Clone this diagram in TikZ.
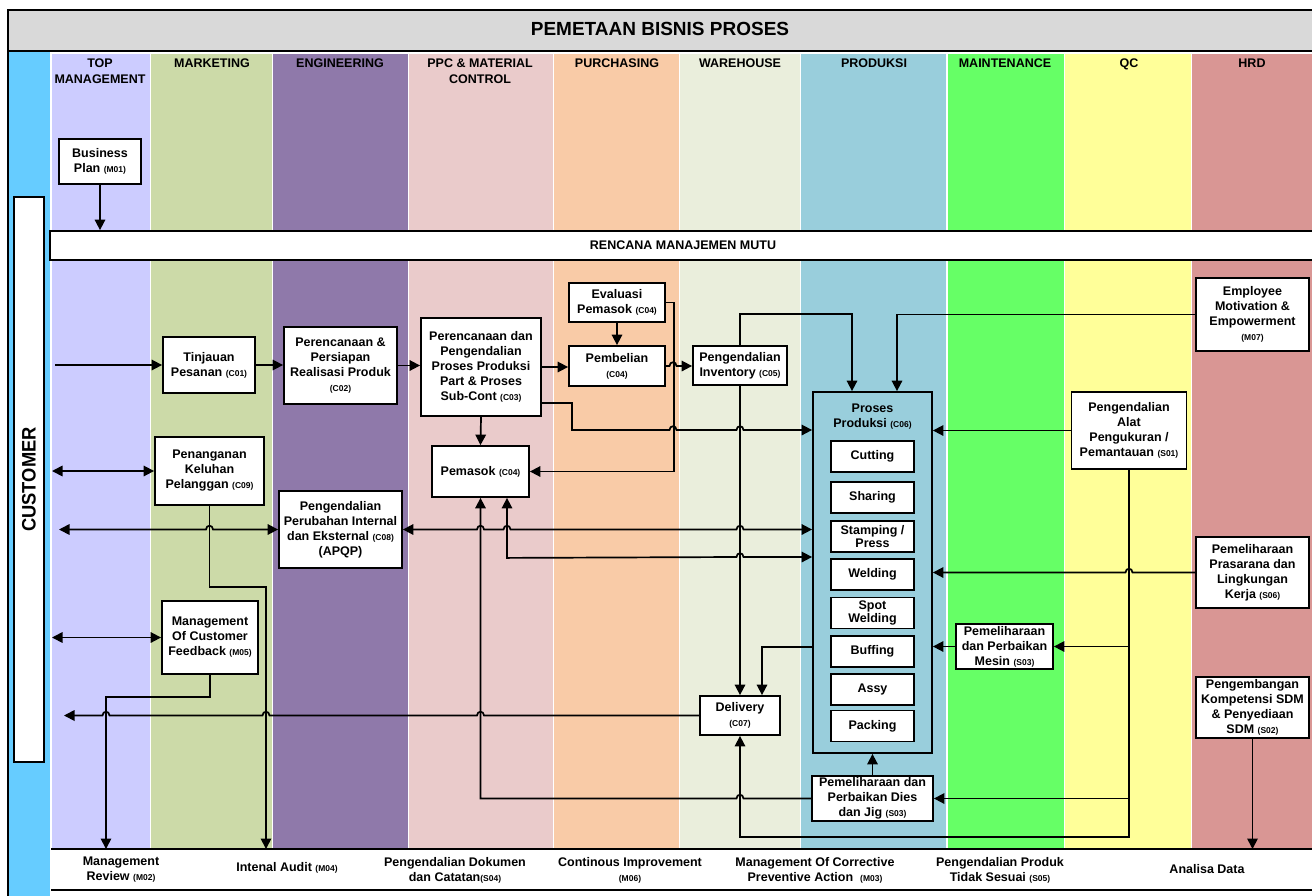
\documentclass[tikz,border=0pt]{standalone}
\usepackage{fontspec}
\setmainfont{Liberation Sans}
\usetikzlibrary{arrows.meta}
\definecolor{titlegray}{HTML}{D9D9D9}
\definecolor{custblue}{HTML}{66CCFF}
\definecolor{lnTop}{HTML}{CCCCFF}
\definecolor{lnMkt}{HTML}{CCDAA8}
\definecolor{lnEng}{HTML}{8F79AA}
\definecolor{lnPPC}{HTML}{EACBCB}
\definecolor{lnPur}{HTML}{F9CBA7}
\definecolor{lnWh}{HTML}{EAEEDC}
\definecolor{lnPro}{HTML}{99CEDC}
\definecolor{lnMnt}{HTML}{66FF66}
\definecolor{lnQC}{HTML}{FFFF99}
\definecolor{lnHRD}{HTML}{D99694}
\newcommand{\cd}[1]{{\fontsize{8.5}{10}\selectfont #1}}
\tikzset{
  lane/.style={draw=white,line width=1.2pt},
  box/.style={draw=black,fill=white,line width=1.8pt,inner sep=0pt,align=center,font=\fontsize{12.5}{15}\selectfont\bfseries},
  head/.style={inner sep=0pt,align=center,anchor=north,font=\fontsize{12.5}{16.5}\selectfont\bfseries},
  btxt/.style={inner sep=0pt,align=center,font=\fontsize{12.5}{15}\selectfont\bfseries},
  con/.style={line width=1.7pt},
  arr/.style={con,-{Triangle[length=10.5pt,width=10.5pt]}},
  darr/.style={con,{Triangle[length=10.5pt,width=10.5pt]}-{Triangle[length=10.5pt,width=10.5pt]}},
  hopr/.style args={#1/#2}{insert path={-- (#1-3.5,#2) .. controls (#1-3.5,#2-5) and (#1+3.5,#2-5) .. (#1+3.5,#2)}},
  hopl/.style args={#1/#2}{insert path={-- (#1+3.5,#2) .. controls (#1+3.5,#2-5) and (#1-3.5,#2-5) .. (#1-3.5,#2)}}
}
\begin{document}
\begin{tikzpicture}[x=1pt,y=-1pt]
\useasboundingbox (0,0) rectangle (1312,895);
% title band
\filldraw[fill=titlegray,line width=2pt] (8,10) rectangle (1318,51);
\node[inner sep=0pt,font=\fontsize{19}{20}\selectfont\bfseries] (title) at (660,29.2) {PEMETAAN BISNIS PROSES};
% customer column
\fill[custblue] (9,52) rectangle (50,897);
\draw[line width=2pt] (8,10) -- (8,897);
% lanes
\path[lane,fill=lnTop] (51,53) rectangle (150.5,849);
\path[lane,fill=lnMkt] (150.5,53) rectangle (272.5,849);
\path[lane,fill=lnEng] (272.5,53) rectangle (408.5,849);
\path[lane,fill=lnPPC] (408.5,53) rectangle (553.5,849);
\path[lane,fill=lnPur] (553.5,53) rectangle (679.5,849);
\path[lane,fill=lnWh] (679.5,53) rectangle (800.5,849);
\path[lane,fill=lnPro] (800.5,53) rectangle (947,849);
\path[lane,fill=lnMnt] (947,53) rectangle (1064.5,849);
\path[lane,fill=lnQC] (1064.5,53) rectangle (1191.5,849);
\path[lane,fill=lnHRD] (1191.5,53) rectangle (1320,849);
% lane headings
\node[head] (hTop) at (100,58.5) {TOP\\MANAGEMENT};
\node[head] (hMkt) at (212,58.5) {MARKETING};
\node[head] (hEng) at (340,58.5) {ENGINEERING};
\node[head] (hPPC) at (480,58.5) {PPC \& MATERIAL\\CONTROL};
\node[head] (hPur) at (617,58.5) {PURCHASING};
\node[head] (hWh) at (740,58.5) {WAREHOUSE};
\node[head] (hPro) at (874,58.5) {PRODUKSI};
\node[head] (hMnt) at (1005,58.5) {MAINTENANCE};
\node[head] (hQC) at (1129,58.5) {QC};
\node[head] (hHRD) at (1252,58.5) {HRD};
% quality plan band
\node[box,minimum width=1266,minimum height=29] (rmm) at (683,245.5) {RENCANA MANAJEMEN MUTU};
% bottom band
\fill[white] (51,849) rectangle (1320,890);
\draw[line width=2pt] (51,849) -- (1320,849);
\draw[line width=2pt] (51,890) -- (1320,890);
\coordinate (bbtop) at (683,849);
\node[btxt] (b1) at (121,870) {Management\\Review \cd{(M02)}};
\node[btxt] (b2) at (287,868) {Intenal Audit \cd{(M04)}};
\node[btxt] (b3) at (455,870) {Pengendalian Dokumen\\dan Catatan\cd{(S04)}};
\node[btxt] (b4) at (630,870) {Continous Improvement\\\cd{(M06)}};
\node[btxt] (b5) at (815,870) {Management Of Corrective\\Preventive Action \ \cd{(M03)}};
\node[btxt] (b6) at (1000,870) {Pengendalian Produk\\Tidak Sesuai \cd{(S05)}};
\node[btxt] (b7) at (1207,869) {Analisa Data};
% customer box
\node[box,rotate=90,minimum width=565,minimum height=30,font=\fontsize{19.5}{20}\selectfont\bfseries] (cust) at (29,479.5) {\scalebox{0.94}[1]{CUSTOMER}};
% process boxes
\node[box,minimum width=82,minimum height=45] (bp) at (100,161.5) {Business\\Plan \cd{(M01)}};
\node[box,minimum width=92,minimum height=56] (c01) at (209,365) {Tinjauan\\Pesanan \cd{(C01)}};
\node[box,minimum width=113,minimum height=77] (c02) at (340.5,365.5) {Perencanaan \&\\Persiapan\\Realisasi Produk\\\cd{(C02)}};
\node[box,minimum width=120,minimum height=98] (c03) at (481,367) {Perencanaan dan\\Pengendalian\\Proses Produksi\\Part \& Proses\\Sub-Cont \cd{(C03)}};
\node[box,minimum width=96,minimum height=39] (eval) at (617,302.5) {Evaluasi\\Pemasok \cd{(C04)}};
\node[box,minimum width=96,minimum height=40] (pemb) at (617,366) {Pembelian\\\cd{(C04)}};
\node[box,minimum width=94,minimum height=39] (c05) at (740,365.5) {Pengendalian\\Inventory \cd{(C05)}};
\node[box,minimum width=97,minimum height=51] (pemasok) at (480.5,471.5) {Pemasok \cd{(C04)}};
\node[box,minimum width=109,minimum height=68] (c09) at (209.5,471) {Penanganan\\Keluhan\\Pelanggan \cd{(C09)}};
\node[box,minimum width=123,minimum height=77] (c08) at (340.5,529.5) {Pengendalian\\Perubahan Internal\\dan Eksternal \cd{(C08)}\\(APQP)};
\node[box,minimum width=96,minimum height=73] (m05) at (210,637.5) {Management\\Of Customer\\Feedback \cd{(M05)}};
\node[box,minimum width=80,minimum height=39] (c07) at (740,715.5) {Delivery\\\cd{(C07)}};
\node[box,fill=none,minimum width=119,minimum height=361] (c06) at (872.5,572.5) {};
\node[btxt] (c06t) at (872.5,417) {Proses\\Produksi \cd{(C06)}};
\node[box,minimum width=83,minimum height=31] (s1) at (872.5,456.5) {Cutting};
\node[box,minimum width=83,minimum height=31] (s2) at (872.5,497.5) {Sharing};
\node[box,minimum width=83,minimum height=31,font=\fontsize{12.5}{13.5}\selectfont\bfseries] (s3) at (872.5,536.5) {Stamping /\\Press};
\node[box,minimum width=83,minimum height=31] (s4) at (872.5,574.5) {Welding};
\node[box,minimum width=83,minimum height=31,font=\fontsize{12.5}{13.5}\selectfont\bfseries] (s5) at (872.5,613) {Spot\\Welding};
\node[box,minimum width=83,minimum height=31] (s6) at (872.5,651.5) {Buffing};
\node[box,minimum width=83,minimum height=31] (s7) at (872.5,689.5) {Assy};
\node[box,minimum width=83,minimum height=31] (s8) at (872.5,726) {Packing};
\node[box,minimum width=121,minimum height=45] (dies) at (872.5,798.5) {Pemeliharaan dan\\Perbaikan Dies\\dan Jig \cd{(S03)}};
\node[box,minimum width=113,minimum height=73] (m07) at (1252.5,314.5) {Employee\\Motivation \&\\Empowerment\\\cd{(M07)}};
\node[box,minimum width=115,minimum height=77] (s01) at (1129,430.5) {Pengendalian\\Alat\\Pengukuran /\\Pemantauan \cd{(S01)}};
\node[box,minimum width=113,minimum height=71] (s06) at (1252.5,572.5) {Pemeliharaan\\Prasarana dan\\Lingkungan\\Kerja \cd{(S06)}};
\node[box,minimum width=97,minimum height=45] (mesin) at (1004.5,646.5) {Pemeliharaan\\dan Perbaikan\\Mesin \cd{(S03)}};
\node[box,minimum width=113,minimum height=61] (s02) at (1252.5,707.5) {Pengembangan\\Kompetensi SDM\\\& Penyediaan\\SDM \cd{(S02)}};
% free ends at customer side
\coordinate (cin) at (55,365);
\coordinate (cc09) at (52,471);
\coordinate (cc08) at (59,529.5);
\coordinate (cm05) at (52,637.5);
\coordinate (cdel) at (64,715.5);
% connectors
\draw[arr] (bp.south) -- (bp.south |- rmm.north);
\draw[arr] (cin) -- (cin -| c01.west);
\draw[arr] (c01.east) -- (c02.west |- c01.east);
\draw[arr] (c02.east) -- (c03.west |- c02.east);
\draw[arr] (c03.east) -- (pemb.west |- c03.east);
\draw[arr] (eval.south) -- (pemb.north);
\draw[arr] (eval.east) -- ++(8,0) |- (pemasok.east);
\draw[arr] (pemb.east) [hopr=673/366] -- (c05.west |- pemb.east);
\draw[arr] (c05.north) -- ++(0,-31) -| ([xshift=-20.5pt]c06.north);
\draw[arr] (c03.east |- 0,403) -- (572,403) -- (572,430) [hopr=673/430] [hopr=740/430] -- (c06.west |- 0,430);
\draw[arr] (c03.south) -- (pemasok.north);
\draw[arr] (c05.south) -- (c07.north);
\draw[arr] (m07.west) -| ([xshift=24.5pt]c06.north);
\draw[arr] (s01.west) -- (c06.east |- s01.west);
\draw[arr] (s06.west) [hopl=1129/572.5] -- (c06.east |- s06.west);
\draw[arr] (mesin.west) -- (c06.east |- mesin.west);
\draw[arr] (s01.south) -- (s01.south |- 0,837) -| (c07.south);
\draw[arr] (s01.south |- mesin.east) -- (mesin.east);
\draw[arr] (s01.south |- dies.east) -- (dies.east);
\draw[arr] (dies.north) -- (c06.south);
\draw[arr] (dies.west) [hopl=740/798.5] -- (pemasok.south |- dies.west) -- (pemasok.south);
\draw[darr] (cc08) [hopr=209.5/529.5] -- (c08.west);
\draw[darr] (c08.east) [hopr=480.5/529.5] [hopr=507/529.5] [hopr=740/529.5] -- (c06.west |- c08.east);
\draw[darr] ([xshift=26.5pt]pemasok.south) -- ++(0,60) [hopr=740/557] -- (c06.west |- 0,557);
\draw[arr] (c09.south) -- ++(0,81) -| (bbtop -| 266,0);
\draw[darr] (cc09) -- (c09.west);
\draw[darr] (cm05) -- (m05.west);
\draw[arr] (m05.south) -- ++(0,22) -| (bbtop -| 106,0);
\draw[arr] (c07.west) [hopl=480.5/715.5] [hopl=266/715.5] [hopl=106/715.5] -- (cdel);
\draw[arr] (c06.west |- 0,647) -| ([xshift=22pt]c07.north);
\draw[arr] (s02.south) -- (bbtop -| s02.south);
\end{tikzpicture}
\end{document}
